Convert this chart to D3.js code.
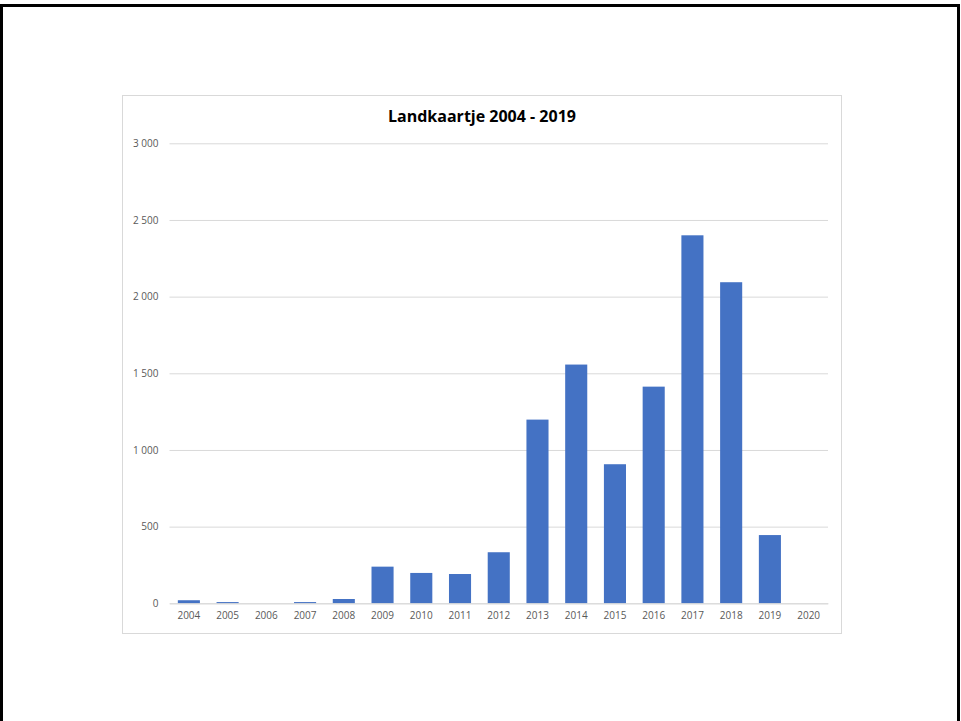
<!DOCTYPE html>
<html><head><meta charset="utf-8">
<script src="https://cdn.jsdelivr.net/npm/d3@7"></script>
<style>body{margin:0;background:#fff;} svg{display:block;}</style>
</head><body>
<script>
const title = "Landkaartje 2004 - 2019";
const years = ["2004","2005","2006","2007","2008","2009","2010","2011","2012","2013","2014","2015","2016","2017","2018","2019","2020"];
const values = [20, 8, 0, 8, 28, 239, 198, 191, 333, 1198, 1557, 907, 1413, 2400, 2094, 445, 0];
const yTicks = [0, 500, 1000, 1500, 2000, 2500, 3000];

const W = 961, H = 721;
const svg = d3.select("body").append("svg").attr("width", W).attr("height", H);
svg.append("rect").attr("x", 1.5).attr("y", 5.5).attr("width", 957).attr("height", 730)
  .attr("fill", "none").attr("stroke", "#000").attr("stroke-width", 3);
svg.append("rect").attr("x", 122.5).attr("y", 95.5).attr("width", 719).attr("height", 538)
  .attr("fill", "#fff").attr("stroke", "#d9d9d9").attr("stroke-width", 1);

const x = d3.scaleBand().domain(years).range([169.5, 828]).paddingInner(0.43).paddingOuter(0.215);
const y = d3.scaleLinear().domain([0, 3000]).range([603.3, 143.3]);

const ga = svg.append("g").attr("transform", "translate(169.5,0)")
  .call(d3.axisLeft(y).tickValues(yTicks).tickSize(-658.5).tickFormat(v => d3.format(",")(v).replace(/,/g, " ")).tickPadding(11));
ga.select(".domain").remove();
ga.selectAll(".tick line").attr("stroke", "#d9d9d9");
ga.selectAll(".tick text").attr("fill", "#595959").style("font-family", "'Open Sans', 'Noto Sans', sans-serif").style("font-size", "10px");

svg.append("g").selectAll("rect").data(values).join("rect")
  .attr("x", (d, i) => x(years[i])).attr("width", x.bandwidth())
  .attr("y", d => y(d)).attr("height", d => y(0) - y(d))
  .attr("fill", "#4472c4");

const gx = svg.append("g").attr("transform", "translate(0,603.3)")
  .call(d3.axisBottom(x).tickSize(0).tickPadding(9));
gx.select(".domain").attr("stroke", "#d9d9d9");
gx.selectAll(".tick text").attr("fill", "#595959").style("font-family", "'Open Sans', 'Noto Sans', sans-serif").style("font-size", "10px");

svg.append("text").attr("x", 482).attr("y", 122).attr("text-anchor", "middle")
  .style("font-family", "'Open Sans', 'Noto Sans', sans-serif").style("font-weight", "bold").style("font-size", "16px")
  .attr("fill", "#000").text(title);
</script>
</body></html>
